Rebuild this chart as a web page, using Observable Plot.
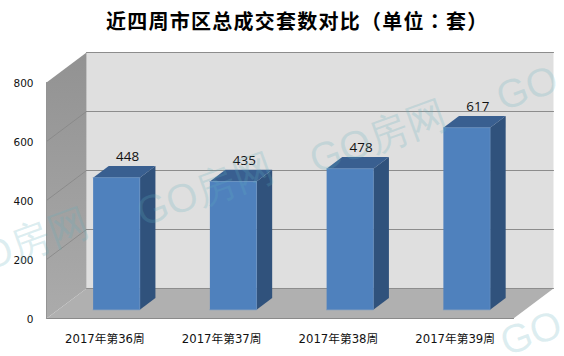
<!DOCTYPE html>
<html>
<head>
<meta charset="utf-8">
<script src="https://cdn.jsdelivr.net/npm/d3@7"></script>
<script src="https://cdn.jsdelivr.net/npm/@observablehq/plot@0.6"></script>
<style>
html,body{margin:0;padding:0;background:#fff;}
#wrap{position:relative;width:564px;height:356px;overflow:hidden;}
#title{height:40px;box-sizing:border-box;padding-left:106px;text-align:left;font:bold 20px/42px "Noto Sans CJK SC",sans-serif;letter-spacing:1.25px;color:#000;white-space:nowrap;text-spacing-trim:space-all;}
#title span{font-family:"Noto Sans CJK TC",sans-serif;}
.wm{position:absolute;font:40px "Liberation Sans",sans-serif;color:rgba(95,175,190,.22);white-space:nowrap;transform:translate(-50%,-50%) rotate(-20deg);pointer-events:none;}
svg{display:block;}
</style>
</head>
<body>
<div id="wrap">
<div id="title">近四周市区总成交套数对比（单位<span>：</span>套）</div>
</div>
<script>
const weeks = ["2017年第36周", "2017年第37周", "2017年第38周", "2017年第39周"];
const values = [448, 435, 478, 617];
const yTicks = [0, 200, 400, 600, 800];
const watermarks = ["GO房网", "GO房网", "GO房网", "GO", "GO"];

// Oblique projection: one step of chart depth, in scale units
const depthX = 0.3426, depthY = 101.7;
const yMax = 800, nCat = weeks.length;
const barW = 0.4, barDepth0 = 0.29, barDepth1 = 0.68;

const P = (x, y, d = 0) => ({x: x + d * depthX, y: y + d * depthY});
const poly = (pts, fill, extra = {}) =>
  Plot.line(pts, {x: "x", y: "y", fill, stroke: "none", ...extra});
const seg = (pts, stroke, strokeWidth = 1) =>
  Plot.line(pts, {x: "x", y: "y", stroke, strokeWidth});

const marks = [];
// gradient definition for the side wall
marks.push(() => {
  const s = d3.create("svg:defs");
  const g = s.append("linearGradient").attr("id", "wallGrad").attr("x1", 0).attr("y1", 0).attr("x2", 0).attr("y2", 1);
  g.append("stop").attr("offset", "0%").attr("stop-color", "#929292");
  g.append("stop").attr("offset", "100%").attr("stop-color", "#ababab");
  return s.node();
});
// back wall
marks.push(poly([P(0,0,1), P(nCat,0,1), P(nCat,yMax,1), P(0,yMax,1)], "#dfdfdf"));
// side wall
marks.push(poly([P(0,0,0), P(0,0,1), P(0,yMax,1), P(0,yMax,0)], "url(#wallGrad)"));
// floor
marks.push(poly([P(0,0,0), P(nCat,0,0), P(nCat,0,1), P(0,0,1)], "#b0b0b0"));
// grid lines
for (const v of yTicks) {
  if (v > 0) marks.push(seg([P(0,v,1), P(nCat,v,1)], "#8c8c8c", 1.2));
  if (v > 0 && v < yMax) marks.push(seg([P(0,v,0), P(0,v,1)], "#868686", 0.8));
}
marks.push(seg([P(0,0,1), P(nCat,0,1)], "#8c8c8c", 1));
marks.push(seg([P(0,0,0), P(nCat,0,0)], "#8a8a8a", 1.2));
marks.push(seg([P(0,0,0), P(0,yMax,0)], "#949494", 1));

// bars
values.forEach((v, i) => {
  const l = i + 0.5 - barW / 2, r = i + 0.5 + barW / 2;
  marks.push(poly([P(r,0,barDepth0), P(r,0,barDepth1), P(r,v,barDepth1), P(r,v,barDepth0)], "#30527c"));
  marks.push(poly([P(l,v,barDepth0), P(r,v,barDepth0), P(r,v,barDepth1), P(l,v,barDepth1)], "#395f90"));
  marks.push(poly([P(l,0,barDepth0), P(r,0,barDepth0), P(r,v,barDepth0), P(l,v,barDepth0)], "#4f81bd",
    {stroke: "#6a93c6", strokeWidth: 0.6}));
});

// value labels
marks.push(Plot.text(values.map((v, i) => ({...P(i + 0.5, v, barDepth1), v})), {
  x: "x", y: "y", text: d => String(d.v), dy: -9, dx: -4.5,
  fontSize: 13.4, fill: "#111", fontFamily: "Open Sans", textAnchor: "middle"
}));

// axes
marks.push(Plot.axisY(yTicks, {
  anchor: "left", tickSize: 0, tickPadding: 13, label: null, dy: 1.5,
  fontSize: 10.5, fontFamily: "DejaVu Sans", color: "#111", fill: "#111"
}));
marks.push(Plot.axisX(weeks.map((_, i) => i + 0.5), {
  anchor: "bottom", tickSize: 0, tickPadding: 16.5, label: null,
  tickFormat: d => weeks[Math.floor(d)],
  fontSize: 11.7, fontFamily: "DejaVu Sans, Noto Sans CJK SC", fill: "#111"
}));

const chart = Plot.plot({
  width: 564, height: 316,
  marginLeft: 46, marginRight: 11, marginTop: 12, marginBottom: 38,
  x: {type: "linear", domain: [0, nCat + depthX]},
  y: {type: "linear", domain: [0, yMax + depthY]},
  style: {background: "transparent", overflow: "visible"},
  marks
});
const wrap = document.getElementById("wrap");
wrap.appendChild(chart);

// watermark overlay
const wmCentres = [[20,245],[205,190],[378,137],[527,88],[531,333]];
watermarks.forEach((t, i) => {
  const s = document.createElement("span");
  s.className = "wm";
  s.textContent = t;
  s.style.left = wmCentres[i][0] + "px";
  s.style.top = wmCentres[i][1] + "px";
  wrap.appendChild(s);
});
</script>
</body>
</html>
